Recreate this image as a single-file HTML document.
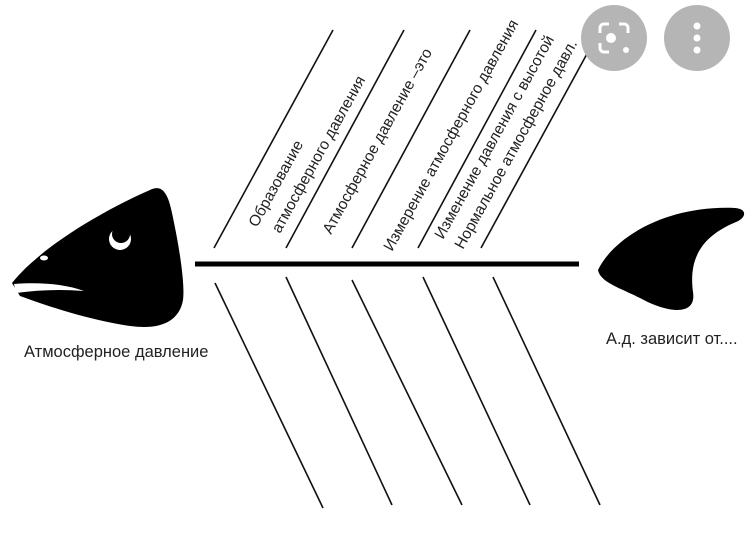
<!DOCTYPE html>
<html><head><meta charset="utf-8"><style>
html,body{margin:0;padding:0;background:#fff;}
svg{display:block;}
text{font-family:"Liberation Sans","DejaVu Sans",sans-serif;font-size:15.5px;fill:#222;}
</style></head><body>
<svg width="748" height="540" viewBox="0 0 748 540" xmlns="http://www.w3.org/2000/svg">
<rect width="748" height="540" fill="#fff"/>
<line x1="195" y1="264" x2="579" y2="264" stroke="#000" stroke-width="5"/>
<g stroke="#111" stroke-width="1.6">
<line x1="214" y1="248" x2="333" y2="30"/>
<line x1="286" y1="248" x2="404" y2="30"/>
<line x1="352" y1="248" x2="470" y2="30"/>
<line x1="418" y1="248" x2="536" y2="30"/>
<line x1="481" y1="248" x2="600" y2="30"/>
<line x1="215" y1="283" x2="323" y2="508"/>
<line x1="286" y1="277" x2="392" y2="505"/>
<line x1="352" y1="280" x2="462" y2="505"/>
<line x1="423" y1="277" x2="530" y2="505"/>
<line x1="493" y1="277" x2="600" y2="505"/>
</g>
<text transform="translate(257,228) rotate(-61)">Образование</text>
<text transform="translate(280,234) rotate(-61)">атмосферного давления</text>
<text transform="translate(331,235) rotate(-61)">Атмосферное давление –это</text>
<text transform="translate(392,252) rotate(-61)">Измерение атмосферного давления</text>
<text transform="translate(443,240) rotate(-61)">Изменение давления с высотой</text>
<text transform="translate(463,250) rotate(-61)">Нормальное атмосферное давл.</text>
<path d="M12,283 C40,248 100,212 150,190 C162,184 168,193 172,213 C180,250 185,285 183,300 C179,322 160,330 130,326 C90,320 50,307 20,296 Z" fill="#000"/>
<path d="M14,284 C40,282 65,284 84,291 C60,289 38,290 16,293 Z" fill="#fff"/>
<ellipse cx="44" cy="258" rx="4" ry="2.5" fill="#fff"/>
<circle cx="120" cy="239" r="11" fill="#fff"/>
<circle cx="121" cy="234" r="9" fill="#000"/>
<text x="24" y="357" style="font-size:16.5px">Атмосферное давление</text>
<path d="M598,270 C615,235 670,205 735,208 C748,209 746,218 736,222 C705,235 688,255 693,292 C697,318 665,312 640,298 C620,288 600,282 598,270 Z" fill="#000"/>
<text x="606" y="344" style="font-size:16.5px">А.д. зависит от....</text>
<circle cx="614" cy="38" r="33" fill="#b5b5b5"/>
<circle cx="697" cy="38" r="33" fill="#b5b5b5"/>
<g fill="none" stroke="#fff" stroke-width="3">
<path d="M600,33 v-5 a4,4 0 0 1 4,-4 h5"/>
<path d="M619,24 h5 a4,4 0 0 1 4,4 v5"/>
<path d="M600,43 v5 a4,4 0 0 0 4,4 h5"/>
</g>
<circle cx="611" cy="38" r="5" fill="#fff"/>
<circle cx="626" cy="50" r="3" fill="#fff"/>
<circle cx="697" cy="26" r="3.5" fill="#fff"/>
<circle cx="697" cy="38" r="3.5" fill="#fff"/>
<circle cx="697" cy="50" r="3.5" fill="#fff"/>
</svg>
</body></html>
